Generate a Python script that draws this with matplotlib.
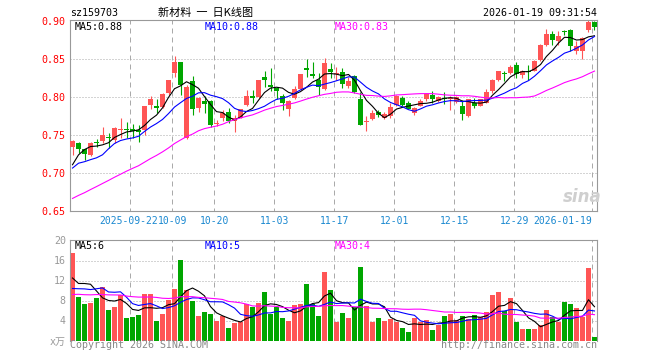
import numpy as np
import matplotlib
matplotlib.use("Agg")
import matplotlib.pyplot as plt
from matplotlib import transforms

# daily candles, oldest first (88 sessions, 2025-09-08 .. 2026-01-19)
opens = [0.734, 0.740, 0.732, 0.724, 0.741, 0.742, 0.747, 0.744, 0.757, 0.758,
         0.758, 0.757, 0.757, 0.790, 0.789, 0.787, 0.805, 0.832, 0.847, 0.746,
         0.821, 0.786, 0.795, 0.795, 0.765, 0.772, 0.780, 0.769, 0.773, 0.790,
         0.802, 0.800, 0.826, 0.816, 0.812, 0.802, 0.785, 0.799, 0.811, 0.838,
         0.831, 0.823, 0.811, 0.837, 0.831, 0.833, 0.815, 0.828, 0.797, 0.767,
         0.771, 0.780, 0.772, 0.775, 0.790, 0.799, 0.793, 0.779, 0.789, 0.797,
         0.803, 0.795, 0.799, 0.798, 0.794, 0.789, 0.775, 0.793, 0.789, 0.793,
         0.808, 0.823, 0.832, 0.832, 0.842, 0.829, 0.834, 0.835, 0.849, 0.869,
         0.884, 0.874, 0.887, 0.888, 0.861, 0.861, 0.889, 0.899]
closes = [0.742, 0.732, 0.725, 0.739, 0.740, 0.750, 0.746, 0.760, 0.758, 0.757,
          0.756, 0.754, 0.789, 0.797, 0.786, 0.804, 0.823, 0.846, 0.816, 0.813,
          0.785, 0.799, 0.791, 0.764, 0.766, 0.779, 0.769, 0.772, 0.784, 0.802,
          0.799, 0.823, 0.823, 0.813, 0.808, 0.793, 0.795, 0.811, 0.830, 0.836,
          0.828, 0.814, 0.845, 0.833, 0.832, 0.818, 0.822, 0.807, 0.764, 0.768,
          0.779, 0.776, 0.778, 0.787, 0.802, 0.790, 0.785, 0.786, 0.795, 0.804,
          0.797, 0.800, 0.797, 0.799, 0.800, 0.778, 0.797, 0.789, 0.797, 0.807,
          0.823, 0.834, 0.830, 0.840, 0.830, 0.835, 0.833, 0.848, 0.869, 0.884,
          0.875, 0.881, 0.886, 0.867, 0.868, 0.878, 0.899, 0.893]
highs = [0.744, 0.741, 0.732, 0.741, 0.745, 0.761, 0.753, 0.761, 0.773, 0.767,
         0.765, 0.764, 0.789, 0.801, 0.798, 0.805, 0.823, 0.854, 0.847, 0.816,
         0.828, 0.800, 0.801, 0.796, 0.770, 0.783, 0.786, 0.777, 0.785, 0.810,
         0.810, 0.823, 0.834, 0.838, 0.814, 0.804, 0.796, 0.815, 0.831, 0.851,
         0.847, 0.832, 0.852, 0.845, 0.840, 0.838, 0.827, 0.829, 0.807, 0.775,
         0.783, 0.783, 0.781, 0.793, 0.803, 0.801, 0.795, 0.787, 0.797, 0.806,
         0.808, 0.801, 0.807, 0.801, 0.801, 0.796, 0.798, 0.799, 0.798, 0.811,
         0.824, 0.835, 0.834, 0.843, 0.847, 0.836, 0.842, 0.849, 0.870, 0.890,
         0.887, 0.887, 0.889, 0.890, 0.874, 0.879, 0.902, 0.900]
lows = [0.724, 0.726, 0.717, 0.722, 0.734, 0.740, 0.733, 0.739, 0.746, 0.746,
        0.746, 0.741, 0.750, 0.785, 0.779, 0.786, 0.803, 0.827, 0.803, 0.745,
        0.777, 0.781, 0.779, 0.761, 0.762, 0.768, 0.766, 0.754, 0.772, 0.789,
        0.792, 0.799, 0.814, 0.808, 0.797, 0.783, 0.775, 0.797, 0.810, 0.827,
        0.825, 0.803, 0.810, 0.825, 0.823, 0.812, 0.812, 0.805, 0.763, 0.756,
        0.770, 0.774, 0.771, 0.772, 0.789, 0.789, 0.784, 0.777, 0.788, 0.795,
        0.793, 0.794, 0.791, 0.783, 0.792, 0.770, 0.774, 0.786, 0.788, 0.792,
        0.806, 0.821, 0.821, 0.830, 0.825, 0.825, 0.823, 0.834, 0.848, 0.867,
        0.869, 0.869, 0.882, 0.861, 0.857, 0.851, 0.886, 0.889]
# volume in units of 10k lots
volumes = [17.5, 8.73, 7.27, 7.47, 8.53, 10.67, 6.07, 6.73, 9.07, 4.53,
           4.67, 5.07, 9.27, 9.27, 3.93, 5.27, 8.07, 10.27, 16.07, 10.13,
           7.93, 4.87, 5.67, 5.27, 3.93, 5.0, 2.47, 3.47, 3.67, 7.4,
           6.73, 7.47, 9.67, 5.4, 6.73, 4.6, 3.93, 7.07, 7.27, 11.27,
           7.4, 4.87, 13.73, 10.07, 3.7, 5.5, 4.55, 6.7, 14.75, 6.85,
           3.7, 4.5, 3.9, 4.33, 3.67, 2.47, 1.67, 4.53, 3.67, 4.07,
           2.07, 3.07, 4.87, 5.4, 4.2, 4.87, 4.33, 5.07, 4.73, 5.67,
           9.1, 9.7, 5.9, 8.47, 3.7, 2.3, 2.27, 2.4, 3.05, 6.1,
           4.75, 3.7, 7.7, 7.4, 6.47, 4.75, 14.47, 0.7]

# sessions before the window, only used to seed the moving averages
prior_closes = [0.612, 0.618, 0.615, 0.622, 0.628, 0.625, 0.633, 0.640, 0.636, 0.645,
                0.650, 0.648, 0.655, 0.660, 0.664, 0.668, 0.672, 0.676, 0.680, 0.684,
                0.668, 0.705, 0.712, 0.716, 0.710, 0.667, 0.690, 0.719, 0.737]
prior_volumes = [7.5, 9.8, 8.2, 6.9, 10.5, 8.0, 7.2, 9.4, 11.0, 8.3,
                 7.6, 9.1, 8.8, 6.5, 10.2, 9.5, 7.8, 8.4, 9.0, 8.3,
                 9.2, 7.6, 8.8, 6.9, 9.0, 14.2, 7.3, 8.2, 15.3]

tick_index = [10, 17, 24, 34, 44, 54, 64, 74, 87]
tick_labels = ["2025-09-22", "10-09", "10-20", "11-03", "11-17",
               "12-01", "12-15", "12-29", "2026-01-19"]
price_ticks = [0.65, 0.70, 0.75, 0.80, 0.85, 0.90]
volume_ticks = [0, 4, 8, 12, 16, 20]
volume_tick_labels = ["x万", "4", "8", "12", "16", "20"]
# legend texts as printed by the quote page
price_legend = ["MA5:0.88", "MA10:0.88", "MA30:0.83"]
volume_legend = ["MA5:6", "MA10:5", "MA30:4"]

RED = "#ff5555"
GREEN = "#00a600"
GRID = "#aaaaaa"
BORDER = "#999999"
MA_COLORS = ["black", "#0000ff", "#ff00ff"]
MONO = "DejaVu Sans Mono"


def moving_average(prior, values, n):
    full = np.array(prior + values, dtype=float)
    out = np.convolve(full, np.ones(n) / n, mode="valid")
    return out[-len(values):]


W, H = 660, 360
fig = plt.figure(figsize=(6.6, 3.6), dpi=100)
fig.patch.set_facecolor("white")


def fx(px):
    return px / W


def fy(py):
    return 1 - py / H


ax = fig.add_axes([fx(70), fy(211), fx(527), 191 / H])
axv = fig.add_axes([fx(70), fy(340.5), fx(527), 100.5 / H])

x = np.arange(len(closes))
o = np.array(opens)
c = np.array(closes)
up = c >= o
cols = [RED if u else GREEN for u in up]

for a in (ax, axv):
    a.set_xlim(-0.42, len(closes) - 0.58)
    for s in a.spines.values():
        s.set_color(BORDER)
        s.set_linewidth(0.8)
    a.tick_params(length=0)
    a.set_xticks([])

# ---- price panel
ax.set_ylim(0.6504, 0.9018)
ax.hlines([0.70, 0.75, 0.80, 0.85], -1, len(closes), colors=GRID,
          linewidth=0.72, linestyles=[(0, (1, 2))], zorder=1)
ax.vlines([i - 0.4 for i in tick_index], 0.6, 1.0, colors=GRID,
          linewidth=0.72, linestyles=[(0, (5, 4))], zorder=1)

ax.vlines(x, lows, highs, colors=cols, linewidth=0.8, zorder=2)
bottoms = np.minimum(o, c)
heights = np.maximum(np.abs(c - o), 0.0009)
ax.bar(x, heights, bottom=bottoms, width=0.82, color=cols, linewidth=0, zorder=3)

for n, col in zip([5, 10, 30], MA_COLORS):
    ax.plot(x, moving_average(prior_closes, closes, n), color=col, linewidth=0.8, zorder=4)

ax.set_yticks(price_ticks)
ax.set_yticklabels([f"{v:.2f}" for v in price_ticks], color="#ff0000",
                   fontsize=7.2, family=MONO)
ax.tick_params(axis="y", pad=3)

# ---- volume panel
axv.set_ylim(0, 20.1)
axv.spines["bottom"].set_visible(False)
axv.hlines([4, 8, 12, 16], -1, len(closes), colors=GRID,
           linewidth=0.72, linestyles=[(0, (1, 2))], zorder=1)
axv.vlines([i - 0.4 for i in tick_index], 0, 21, colors=GRID,
           linewidth=0.72, linestyles=[(0, (5, 4))], zorder=1)
axv.bar(x, volumes, width=0.84, color=cols, linewidth=0, zorder=2)

for n, col in zip([5, 10, 30], MA_COLORS):
    axv.plot(x, moving_average(prior_volumes, volumes, n), color=col, linewidth=0.8, zorder=4)

axv.set_yticks(volume_ticks)
axv.set_yticklabels(volume_tick_labels, color="#999999", fontsize=7.2,
                    family=[MONO, "Noto Sans CJK SC"])
axv.tick_params(axis="y", pad=3)

# ---- date labels under the price panel
trans = transforms.blended_transform_factory(ax.transData, fig.transFigure)
for i, lab in zip(tick_index, tick_labels):
    if i == tick_index[-1]:
        ax.text(i - 0.4, fy(221.5), lab, transform=trans, ha="right", va="center",
                color="#1a88d0", fontsize=7.0, family=MONO)
    elif i == tick_index[0]:
        ax.text(i - 0.65, fy(221.5), lab, transform=trans, ha="center", va="center",
                color="#1a88d0", fontsize=7.0, family=MONO)
    else:
        ax.text(i - 0.3, fy(221.5), lab, transform=trans, ha="center", va="center",
                color="#1a88d0", fontsize=7.0, family=MONO)

# ---- header and legends
fig.text(fx(70), fy(13), "sz159703", ha="left", va="center", fontsize=7.2, family=MONO)
fig.text(fx(206), fy(13), "新材料  一  日K线图", ha="center", va="center", fontsize=8,
         family=["Noto Sans CJK SC", "DejaVu Sans"])
fig.text(fx(597), fy(13), "2026-01-19 09:31:54", ha="right", va="center",
         fontsize=7.2, family=MONO)

for px, txt, col in zip([75, 205, 335], price_legend, MA_COLORS):
    fig.text(fx(px), fy(26.5), txt, color=col, fontsize=7.2, family=MONO, va="center")
for px, txt, col in zip([75, 205, 335], volume_legend, MA_COLORS):
    fig.text(fx(px), fy(246), txt, color=col, fontsize=7.2, family=MONO, va="center")

fig.text(fx(70), fy(345.5), "Copyright 2026 SINA.COM", color="#888888", ha="left",
         va="center", fontsize=7.2, family=MONO)
fig.text(fx(597), fy(345.5), "http://finance.sina.com.cn", color="#888888", ha="right",
         va="center", fontsize=7.2, family=MONO)

# sina watermark
fig.text(fx(582), fy(197), "sina", color="#cfcfcf", ha="center", va="center",
         fontsize=12, fontweight="bold", fontstyle="italic", family="DejaVu Sans")

fig.savefig("out.png", dpi=100, facecolor="white")
